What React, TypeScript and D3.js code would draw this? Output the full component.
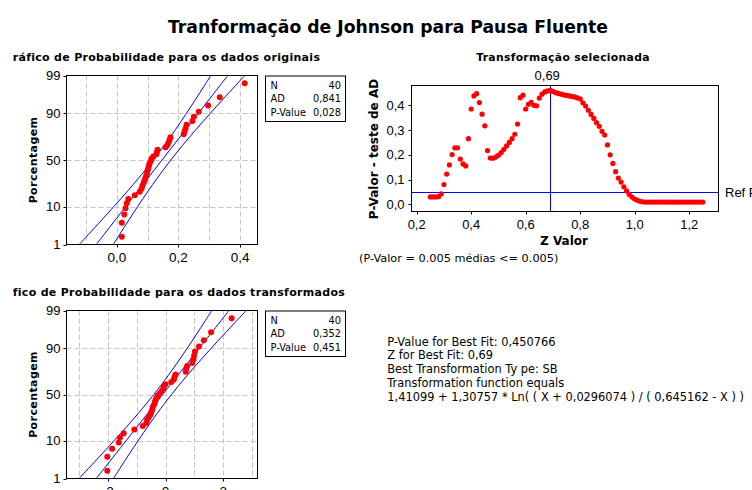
import * as d3 from "d3";

// percent rank of each of the 40 sorted points (median ranks)
const plotPercent = [
  1.73, 4.21, 6.68, 9.16, 11.63, 14.11, 16.58, 19.06, 21.53, 24.01, 26.49, 28.96, 31.44, 33.91, 36.39, 38.86,
  41.34, 43.81, 46.29, 48.76, 51.24, 53.71, 56.19, 58.66, 61.14, 63.61, 66.09, 68.56, 71.04, 73.51, 75.99,
  78.47, 80.94, 83.42, 85.89, 88.37, 90.84, 93.32, 95.79, 98.27,
];

const originalData = [
  0.016, 0.016, 0.024, 0.028, 0.032, 0.037, 0.058, 0.074, 0.08, 0.083, 0.087, 0.09, 0.093, 0.096, 0.098, 0.1,
  0.102, 0.104, 0.106, 0.11, 0.113, 0.118, 0.128, 0.13, 0.132, 0.158, 0.164, 0.168, 0.171, 0.174, 0.217, 0.22,
  0.223, 0.226, 0.245, 0.25, 0.266, 0.296, 0.334, 0.415,
];

const transformedData = [
  -2.02, -2.02, -1.85, -1.62, -1.58, -1.45, -1.08, -0.79, -0.67, -0.64, -0.58, -0.52, -0.49, -0.46, -0.44, -0.4,
  -0.37, -0.35, -0.31, -0.27, -0.2, -0.14, -0.08, -0.06, 0.0, 0.2, 0.29, 0.31, 0.35, 0.7, 0.72, 0.75, 0.93, 0.97,
  0.99, 1.02, 1.16, 1.33, 1.58, 2.29,
];

// fitted line and 95% band, at these percents
const bandPercent = [1, 2, 5, 10, 20, 30, 40, 50, 60, 70, 80, 90, 95, 98, 99];

const originalFit = [-0.067, -0.0421, -0.0045, 0.0288, 0.0692, 0.0984, 0.1233, 0.1465, 0.1698, 0.1946, 0.2238, 0.2642, 0.2975, 0.3351, 0.36];
const originalLower = [-0.1223, -0.0927, -0.0485, -0.0098, 0.036, 0.068, 0.0944, 0.1181, 0.1409, 0.1642, 0.1906, 0.2256, 0.2535, 0.2845, 0.3047];
const originalUpper = [-0.0117, 0.0085, 0.0395, 0.0674, 0.1024, 0.1288, 0.1522, 0.175, 0.1987, 0.225, 0.257, 0.3028, 0.3415, 0.3857, 0.4153];

const transformedFit = [-2.403, -2.1335, -1.7286, -1.3688, -0.9332, -0.6192, -0.3508, -0.1, 0.1508, 0.4192, 0.7332, 1.1688, 1.5286, 1.9335, 2.2027];
const transformedLower = [-2.999, -2.679, -2.203, -1.785, -1.291, -0.947, -0.663, -0.407, -0.161, 0.091, 0.375, 0.753, 1.055, 1.387, 1.607];
const transformedUpper = [-1.807, -1.587, -1.255, -0.953, -0.575, -0.291, -0.039, 0.207, 0.463, 0.747, 1.091, 1.585, 2.003, 2.479, 2.799];

const percentTicks = [1, 10, 50, 90, 99];
const percentGrid = [10, 50, 90];

const originalGrid = [-0.1, 0, 0.1, 0.2, 0.3, 0.4];
const originalTicks = [0, 0.2, 0.4];
const originalTickLabels = ["0,0", "0,2", "0,4"];

const transformedGrid = [-3, -2, -1, 0, 1, 2, 3];
const transformedTicks = [-2, 0, 2];
const transformedTickLabels = ["-2", "0", "2"];

const originalStats = [["N", "40"], ["AD", "0,841"], ["P-Value", "0,028"]];
const transformedStats = [["N", "40"], ["AD", "0,352"], ["P-Value", "0,451"]];

// Johnson transformation search: Z value vs AD p-value
const zValues = [
  0.25, 0.26, 0.27, 0.28, 0.29, 0.3, 0.31, 0.32, 0.33, 0.34, 0.35, 0.36, 0.37, 0.38, 0.39, 0.4, 0.41, 0.42, 0.43,
  0.44, 0.45, 0.46, 0.47, 0.48, 0.49, 0.5, 0.51, 0.52, 0.53, 0.54, 0.55, 0.56, 0.57, 0.58, 0.59, 0.6, 0.61, 0.62,
  0.63, 0.64, 0.65, 0.66, 0.67, 0.68, 0.69, 0.7, 0.71, 0.72, 0.73, 0.74, 0.75, 0.76, 0.77, 0.78, 0.79, 0.8, 0.81,
  0.82, 0.83, 0.84, 0.85, 0.86, 0.87, 0.88, 0.89, 0.9, 0.91, 0.92, 0.93, 0.94, 0.95, 0.96, 0.97, 0.98, 0.99, 1.0,
  1.01, 1.02, 1.03, 1.04, 1.05, 1.06, 1.07, 1.08, 1.09, 1.1, 1.11, 1.12, 1.13, 1.14, 1.15, 1.16, 1.17, 1.18, 1.19,
  1.2, 1.21, 1.22, 1.23, 1.24, 1.25,
];
const pValues = [
  0.03, 0.03, 0.03, 0.031, 0.042, 0.08, 0.122, 0.159, 0.201, 0.228, 0.228, 0.183, 0.163, 0.155, 0.265, 0.385,
  0.438, 0.447, 0.411, 0.364, 0.317, 0.217, 0.187, 0.186, 0.191, 0.198, 0.209, 0.222, 0.236, 0.25, 0.265, 0.283,
  0.324, 0.431, 0.441, 0.385, 0.404, 0.412, 0.4, 0.398, 0.429, 0.445, 0.454, 0.458, 0.46, 0.456, 0.451, 0.448,
  0.445, 0.442, 0.44, 0.438, 0.436, 0.434, 0.43, 0.426, 0.41, 0.397, 0.38, 0.363, 0.347, 0.33, 0.315, 0.295, 0.28,
  0.24, 0.2, 0.165, 0.132, 0.106, 0.09, 0.071, 0.054, 0.04, 0.029, 0.021, 0.016, 0.012, 0.01, 0.009, 0.009, 0.009,
  0.009, 0.009, 0.009, 0.009, 0.009, 0.009, 0.009, 0.009, 0.009, 0.009, 0.009, 0.009, 0.009, 0.009, 0.009, 0.009,
  0.009, 0.009, 0.009,
];
const bestZ = 0.69;
const bestZLabel = "0,69";
const refP = 0.05;
const zTicks = [0.2, 0.4, 0.6, 0.8, 1.0, 1.2];
const zTickLabels = ["0,2", "0,4", "0,6", "0,8", "1,0", "1,2"];
const pTicks = [0, 0.1, 0.2, 0.3, 0.4];
const pTickLabels = ["0,0", "0,1", "0,2", "0,3", "0,4"];

const summaryLines = [
  "P-Value for Best Fit: 0,450766",
  "Z for Best Fit: 0,69",
  "Best Transformation Ty pe: SB",
  "Transformation function equals",
  "1,41099 + 1,30757 * Ln( ( X + 0,0296074 ) / ( 0,645162 - X ) )",
];

const FONT = "'DejaVu Sans', Verdana, sans-serif";
const TICK_FONT = "'Liberation Sans', Arial, sans-serif";
const BLUE = "#0000ff";
const RED = "#ff0000";
const GRID = "#c4c4c4";

// inverse standard normal CDF (Acklam)
function normInv(p: number) {
  const a = [-39.69683028665376, 220.9460984245205, -275.9285104469687, 138.357751867269, -30.66479806614716, 2.506628277459239];
  const b = [-54.47609879822406, 161.5858368580409, -155.6989798598866, 66.80131188771972, -13.28068155288572];
  const c = [-0.007784894002430293, -0.3223964580411365, -2.400758277161838, -2.549732539343734, 4.374664141464968, 2.938163982698783];
  const d = [0.007784695709041462, 0.3224671290700398, 2.445134137142996, 3.754408661907416];
  const tail = (q: number) =>
    (((((c[0] * q + c[1]) * q + c[2]) * q + c[3]) * q + c[4]) * q + c[5]) /
    ((((d[0] * q + d[1]) * q + d[2]) * q + d[3]) * q + 1);
  if (p < 0.02425) return tail(Math.sqrt(-2 * Math.log(p)));
  if (p > 1 - 0.02425) return -tail(Math.sqrt(-2 * Math.log(1 - p)));
  const q = p - 0.5;
  const r = q * q;
  return (
    ((((((a[0] * r + a[1]) * r + a[2]) * r + a[3]) * r + a[4]) * r + a[5]) * q) /
    (((((b[0] * r + b[1]) * r + b[2]) * r + b[3]) * r + b[4]) * r + 1)
  );
}

type ProbPlotProps = {
  id: string;
  top: number;
  bottom: number;
  subtitle: string;
  xDomain: [number, number];
  grid: number[];
  ticks: number[];
  tickLabels: string[];
  data: number[];
  fit: number[];
  lower: number[];
  upper: number[];
  stats: string[][];
};

const PLOT_LEFT = 66.5;
const PLOT_RIGHT = 257.5;

function ProbPlot({ id, top, bottom, subtitle, xDomain, grid, ticks, tickLabels, data, fit, lower, upper, stats }: ProbPlotProps) {
  const x = d3.scaleLinear().domain(xDomain).range([PLOT_LEFT, PLOT_RIGHT]);
  const zScale = d3.scaleLinear().domain([normInv(0.01), normInv(0.99)]).range([bottom, top]);
  const y = (pct: number) => zScale(normInv(pct / 100));

  const bandLine = (values: number[]) =>
    d3
      .line<number>()
      .x((v) => x(v))
      .y((_v, i) => y(bandPercent[i]))
      .curve(d3.curveCatmullRom)(values) ?? "";

  const snap = (v: number) => Math.round(v) + 0.5;

  return (
    <g>
      <text x={12.7} y={top - 15} fontFamily={FONT} fontWeight="bold" fontSize={11} letterSpacing={0.3}>
        {subtitle}
      </text>
      <clipPath id={id}>
        <rect x={PLOT_LEFT} y={top} width={PLOT_RIGHT - PLOT_LEFT} height={bottom - top} />
      </clipPath>
      {grid.map((g) => (
        <line key={`gx${g}`} x1={snap(x(g))} x2={snap(x(g))} y1={top} y2={bottom} stroke={GRID} strokeDasharray="5,3" />
      ))}
      {percentGrid.map((p) => (
        <line key={`gy${p}`} x1={PLOT_LEFT} x2={PLOT_RIGHT} y1={snap(y(p))} y2={snap(y(p))} stroke={GRID} strokeDasharray="5,3" />
      ))}
      <g clipPath={`url(#${id})`} fill="none" stroke={BLUE} strokeWidth={1}>
        <path d={bandLine(lower)} />
        <path d={bandLine(fit)} />
        <path d={bandLine(upper)} />
      </g>
      {data.map((v, i) => (
        <circle key={i} cx={x(v)} cy={y(plotPercent[i])} r={3} fill={RED} />
      ))}
      <rect x={PLOT_LEFT} y={top} width={PLOT_RIGHT - PLOT_LEFT} height={bottom - top} fill="none" stroke="#000" />
      {percentTicks.map((p, i) => (
        <g key={`ty${p}`}>
          <line x1={PLOT_LEFT - 3} x2={PLOT_LEFT} y1={snap(y(p))} y2={snap(y(p))} stroke="#000" />
          <text x={PLOT_LEFT - 6} y={y(p)} dy="0.36em" textAnchor="end" fontFamily={TICK_FONT} fontSize={13}>
            {String(percentTicks[i])}
          </text>
        </g>
      ))}
      {ticks.map((t, i) => (
        <g key={`tx${t}`}>
          <line x1={snap(x(t))} x2={snap(x(t))} y1={bottom} y2={bottom + 3} stroke="#000" />
          <text x={x(t)} y={bottom + 17} textAnchor="middle" fontFamily={TICK_FONT} fontSize={13.5}>
            {tickLabels[i]}
          </text>
        </g>
      ))}
      <text
        transform={`translate(36.5,${(top + bottom) / 2}) rotate(-90)`}
        textAnchor="middle"
        fontFamily={FONT}
        fontWeight="bold"
        fontSize={11}
        letterSpacing={0.4}
      >
        Porcentagem
      </text>
      <rect x={265.5} y={top + 0.5} width={80} height={45.5} fill="#fff" stroke="#000" />
      {stats.map(([label, value], i) => (
        <g key={label} fontFamily={FONT} fontSize={9.8}>
          <text x={270.5} y={top + 13 + i * 13.8}>{label}</text>
          <text x={341} y={top + 13 + i * 13.8} textAnchor="end">{value}</text>
        </g>
      ))}
    </g>
  );
}

function TransformPlot() {
  const left = 411.5;
  const right = 718.5;
  const top = 85.5;
  const bottom = 211.5;
  const x = d3.scaleLinear().domain([0.1817, 1.3057]).range([left + 0.2, right - 0.5]);
  const y = d3.scaleLinear().domain([-0.0299, 0.4792]).range([bottom + 0.2, top + 0.2]);
  const snap = (v: number) => Math.round(v) + 0.5;

  return (
    <g>
      <text x={563} y={60.7} textAnchor="middle" fontFamily={FONT} fontWeight="bold" fontSize={10.8} letterSpacing={0.3}>
        Transformação selecionada
      </text>
      <line x1={left} x2={right} y1={snap(y(refP))} y2={snap(y(refP))} stroke={BLUE} />
      <line x1={snap(x(bestZ))} x2={snap(x(bestZ))} y1={top} y2={bottom} stroke={BLUE} />
      {zValues.map((z, i) => (
        <circle key={i} cx={x(z)} cy={y(pValues[i])} r={2.6} fill={RED} />
      ))}
      <rect x={left} y={top} width={right - left} height={bottom - top} fill="none" stroke="#000" />
      <text x={x(bestZ) - 3} y={80} textAnchor="middle" fontFamily={TICK_FONT} fontSize={13}>
        {bestZLabel}
      </text>
      <text x={725} y={y(refP)} dy="0.36em" fontFamily={TICK_FONT} fontSize={13}>
        Ref P
      </text>
      {zTicks.map((t, i) => (
        <g key={`zx${t}`}>
          <line x1={snap(x(t))} x2={snap(x(t))} y1={bottom} y2={bottom + 3} stroke="#000" />
          <text x={x(t)} y={228.5} textAnchor="middle" fontFamily={TICK_FONT} fontSize={13}>
            {zTickLabels[i]}
          </text>
        </g>
      ))}
      {pTicks.map((t, i) => (
        <g key={`py${t}`}>
          <line x1={left - 3} x2={left} y1={snap(y(t))} y2={snap(y(t))} stroke="#000" />
          <text x={404.5} y={y(t)} dy="0.36em" textAnchor="end" fontFamily={TICK_FONT} fontSize={13}>
            {pTickLabels[i]}
          </text>
        </g>
      ))}
      <text x={564} y={244.5} textAnchor="middle" fontFamily={FONT} fontWeight="bold" fontSize={12}>
        Z Valor
      </text>
      <text
        transform="translate(377.5,149) rotate(-90)"
        textAnchor="middle"
        fontFamily={FONT}
        fontWeight="bold"
        fontSize={12}
      >
        P-Valor - teste de AD
      </text>
      <text x={359} y={262} fontFamily={FONT} fontSize={11.3}>
        (P-Valor = 0.005 médias &lt;= 0.005)
      </text>
    </g>
  );
}

export default function App() {
  return (
    <svg
      width={752}
      height={490}
      viewBox="0 0 752 490"
      style={{ position: "absolute", left: 0, top: 0, background: "#fff" }}
    >
      <rect width={752} height={490} fill="#fff" />
      <text x={168} y={33.3} fontFamily={FONT} fontWeight="bold" fontSize={18} textLength={440} lengthAdjust="spacingAndGlyphs">
        Tranformação de Johnson para Pausa Fluente
      </text>
      <ProbPlot
        id="clip-orig"
        top={75.5}
        bottom={244.5}
        subtitle="ráfico de Probabilidade para os dados originais"
        xDomain={[-0.1636, 0.4565]}
        grid={originalGrid}
        ticks={originalTicks}
        tickLabels={originalTickLabels}
        data={originalData}
        fit={originalFit}
        lower={originalLower}
        upper={originalUpper}
        stats={originalStats}
      />
      <ProbPlot
        id="clip-trans"
        top={310.5}
        bottom={478.5}
        subtitle="fico de Probabilidade para os dados transformados"
        xDomain={[-3.434, 3.19]}
        grid={transformedGrid}
        ticks={transformedTicks}
        tickLabels={transformedTickLabels}
        data={transformedData}
        fit={transformedFit}
        lower={transformedLower}
        upper={transformedUpper}
        stats={transformedStats}
      />
      <TransformPlot />
      <g fontFamily={FONT} fontSize={11.4}>
        {summaryLines.map((line, i) => (
          <text key={i} x={387.3} y={345.5 + i * 13.8} style={{ whiteSpace: "pre" }}>
            {line}
          </text>
        ))}
      </g>
    </svg>
  );
}
